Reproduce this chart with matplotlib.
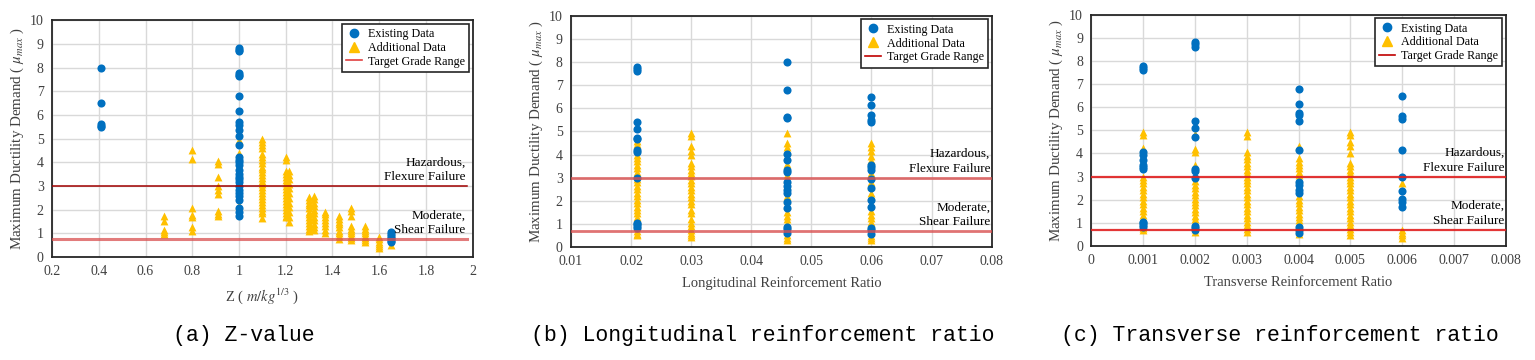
import matplotlib
matplotlib.use("Agg")
import matplotlib.pyplot as plt
from matplotlib.lines import Line2D
from matplotlib.ticker import FuncFormatter

plt.rcParams["font.family"] = ["Liberation Serif", "DejaVu Serif"]
plt.rcParams["mathtext.fontset"] = "stix"

BLUE = "#0070C0"
YELLOW = "#FFC000"
GRID = "#D9D9D9"
TXT = "#404040"

# ── (a) Z-value ──────────────────────────────────────────────────────
a_ex_cols = [0.41, 1.0, 1.65]
a_ex_vals = [
    [8.0, 6.5, 5.62, 5.55, 5.48],
    [8.82, 8.75, 8.68, 7.78, 7.7, 7.63, 6.8, 6.15, 5.72, 5.58, 5.38, 5.12, 4.72,
     4.22, 4.1, 4.0, 3.88, 3.68, 3.52, 3.38, 3.28, 3.18, 2.98, 2.85, 2.7, 2.58,
     2.42, 2.05, 1.92, 1.72],
    [1.05, 0.98, 0.9, 0.82, 0.75, 0.68, 0.62],
]
a_ad_cols = [0.68, 0.8, 0.91, 1.0, 1.1, 1.2, 1.215, 1.3, 1.32, 1.37, 1.43, 1.48, 1.54, 1.6, 1.65]
a_ad_vals = [
    [1.75, 1.52, 1.15, 1.05, 0.98],
    [4.52, 4.12, 2.08, 1.78, 1.68, 1.25, 1.12],
    [4.05, 3.92, 3.38, 2.98, 2.85, 2.68, 1.95, 1.82, 1.75],
    [4.92, 4.4, 2.2],
    [4.98, 4.85, 4.72, 4.6, 4.35, 4.22, 4.1, 3.95, 3.82, 3.7, 3.58, 3.45, 3.32,
     3.2, 3.08, 2.95, 2.82, 2.7, 2.58, 2.45, 2.32, 2.2, 2.08, 1.95, 1.85, 1.65],
    [4.22, 4.08, 3.62, 3.5, 3.38, 3.25, 3.12, 3.0, 2.88, 2.75, 2.62, 2.5, 2.38,
     2.25, 2.12, 2.0, 1.88, 1.75, 1.68],
    [3.65, 3.48, 3.3, 3.1, 2.9, 2.7, 2.5, 2.3, 2.1, 1.9, 1.7, 1.5],
    [2.55, 2.42, 2.3, 2.18, 2.05, 1.92, 1.8, 1.68, 1.55, 1.42, 1.3, 1.18, 1.08],
    [2.58, 2.45, 2.3, 2.15, 2.0, 1.85, 1.7, 1.55, 1.4, 1.25, 1.15],
    [1.92, 1.8, 1.68, 1.55, 1.42, 1.3, 1.15, 1.02],
    [1.75, 1.62, 1.5, 1.38, 1.25, 1.12, 1.0, 0.88, 0.78],
    [2.08, 1.95, 1.75, 1.3, 1.2, 1.1, 1.0, 0.9, 0.8, 0.72],
    [1.3, 1.2, 1.1, 1.0, 0.9, 0.8, 0.7, 0.62],
    [0.85, 0.75, 0.65, 0.55, 0.45, 0.38],
    [0.5],
]
a_lines = [3.0, 0.75]

# ── (b) Longitudinal reinforcement ratio ─────────────────────────────
b_ex_cols = [0.021, 0.046, 0.06]
b_ex_vals = [
    [7.78, 7.7, 7.62, 5.4, 5.1, 4.72, 4.68, 4.18, 4.12, 3.0, 1.05, 0.98, 0.9, 0.82],
    [8.0, 6.8, 5.62, 5.58, 4.02, 3.75, 3.32, 3.25, 2.8, 2.62, 2.45, 2.32, 1.95,
     1.68, 0.88, 0.78, 0.6],
    [6.5, 6.15, 5.72, 5.5, 5.4, 3.55, 3.45, 3.35, 2.95, 2.55, 2.05, 1.72, 0.82,
     0.72, 0.58],
]
b_ad_cols = [0.021, 0.03, 0.046, 0.06]
b_ad_vals = [
    [4.6, 4.45, 4.3, 4.0, 3.85, 3.7, 3.55, 3.4, 3.25, 3.1, 2.95, 2.8, 2.65, 2.5,
     2.35, 2.2, 2.05, 1.9, 1.75, 1.6, 1.45, 1.3, 1.15, 1.0, 0.85, 0.7, 0.58, 0.5],
    [4.95, 4.8, 4.35, 4.15, 4.0, 3.65, 3.5, 3.35, 3.2, 3.05, 2.9, 2.75, 2.6, 2.45,
     2.3, 2.15, 2.0, 1.85, 1.6, 1.45, 1.2, 1.05, 0.9, 0.75, 0.6, 0.5, 0.42],
    [4.92, 4.48, 4.32, 4.15, 3.95, 3.6, 3.4, 3.1, 2.95, 2.7, 2.2, 2.05, 1.8, 1.5,
     1.35, 1.2, 1.05, 0.95, 0.7, 0.5, 0.4, 0.32],
    [4.5, 4.32, 4.15, 3.95, 3.75, 3.6, 3.2, 3.05, 2.8, 2.65, 2.35, 2.2, 1.9, 1.55,
     1.4, 1.25, 1.1, 0.95, 0.65, 0.48, 0.4, 0.32],
]
b_lines = [3.0, 0.7]

# ── (c) Transverse reinforcement ratio ───────────────────────────────
c_ex_cols = [0.001, 0.002, 0.004, 0.006]
c_ex_vals = [
    [7.78, 7.7, 7.62, 4.05, 3.95, 3.72, 3.52, 3.42, 3.32, 1.05, 0.98, 0.9, 0.82],
    [8.82, 8.72, 8.62, 5.4, 5.1, 4.72, 3.32, 3.22, 2.95, 0.88, 0.78, 0.7],
    [6.8, 6.15, 5.75, 5.65, 5.4, 4.15, 2.78, 2.62, 2.42, 2.3, 0.8, 0.7, 0.55],
    [6.5, 5.62, 5.5, 4.15, 3.0, 2.38, 2.05, 1.92, 1.7],
]
c_ad_cols = [0.001, 0.002, 0.003, 0.004, 0.005, 0.006]
c_ad_vals = [
    [4.92, 4.78, 4.25, 4.12, 3.0, 2.85, 2.7, 2.55, 2.4, 2.25, 2.1, 1.95, 1.8, 1.65,
     1.5, 1.35, 1.2, 1.05, 0.9, 0.78, 0.7],
    [4.82, 4.2, 4.05, 3.5, 3.35, 2.8, 2.65, 2.5, 2.35, 2.2, 2.05, 1.9, 1.75, 1.6,
     1.45, 1.3, 1.15, 1.0, 0.85, 0.72, 0.62],
    [4.92, 4.75, 4.05, 3.9, 3.75, 3.6, 3.45, 3.3, 3.15, 3.0, 2.85, 2.7, 2.55, 2.4,
     2.25, 2.1, 1.95, 1.8, 1.65, 1.5, 1.35, 1.2, 1.05, 0.9, 0.75, 0.62],
    [4.3, 3.82, 3.65, 3.5, 3.35, 3.2, 3.05, 2.9, 2.15, 2.0, 1.85, 1.7, 1.55, 1.4,
     1.25, 1.1, 0.95, 0.8, 0.65, 0.52],
    [4.92, 4.78, 4.48, 4.32, 4.02, 3.6, 3.45, 3.3, 3.15, 3.0, 2.85, 2.7, 2.55, 2.4,
     2.25, 2.1, 1.95, 1.8, 1.65, 1.5, 1.35, 1.2, 1.05, 0.9, 0.75, 0.6, 0.48],
    [2.7, 0.68, 0.55, 0.45, 0.35],
]
c_lines = [3.0, 0.7]


def flatten(cols, vals):
    xs, ys = [], []
    for c, v in zip(cols, vals):
        xs += [c] * len(v)
        ys += v
    return xs, ys


def panel(ax, ex_cols, ex_vals, ad_cols, ad_vals, lines, xlim, xstep, xlabel,
          line_x1, line_styles, legend_line_color, caption):
    ax.set_xlim(*xlim)
    ax.set_ylim(0, 10)
    n = int(round((xlim[1] - xlim[0]) / xstep))
    ax.set_xticks([xlim[0] + i * xstep for i in range(n + 1)])
    ax.set_yticks(range(0, 11))
    ax.xaxis.set_major_formatter(FuncFormatter(lambda v, p: f"{round(v, 6):g}"))
    ax.grid(True, color=GRID, lw=1.0, zorder=0)
    ax.set_axisbelow(True)
    ax.tick_params(length=0, labelsize=10, labelcolor=TXT, pad=6)
    for s in ax.spines.values():
        s.set_color("#262626")
        s.set_linewidth(1.3)

    x, y = flatten(ad_cols, ad_vals)
    ax.scatter(x, y, marker="^", s=32, color=YELLOW, lw=0, zorder=3)
    x, y = flatten(ex_cols, ex_vals)
    ax.scatter(x, y, marker="o", s=34, color=BLUE, lw=0, zorder=4)

    for yv, (col, lw, a) in zip(lines, line_styles):
        ax.plot([xlim[0], line_x1], [yv, yv], color=col, lw=lw, alpha=a, zorder=5)

    xr = line_x1 - (xlim[1] - xlim[0]) * 0.003
    ax.text(xr, lines[0] + 0.12, "Hazardous,\nFlexure Failure", ha="right",
            va="bottom", fontsize=9.5, color="black", linespacing=1.3, zorder=6)
    ax.text(xr, lines[1] + 0.12, "Moderate,\nShear Failure", ha="right",
            va="bottom", fontsize=9.5, color="black", linespacing=1.3, zorder=6)

    ax.set_ylabel(r"Maximum Ductility Demand ( $\mu_{max}$ )", fontsize=10.8,
                  color=TXT, labelpad=3)
    ax.set_xlabel(xlabel, fontsize=10.5, color=TXT, labelpad=6)

    handles = [
        Line2D([], [], marker="o", ls="none", color=BLUE, markersize=6),
        Line2D([], [], marker="^", ls="none", color=YELLOW, markersize=6.5),
        Line2D([], [], color=legend_line_color, lw=1.2),
    ]
    leg = ax.legend(handles, ["Existing Data", "Additional Data", "Target Grade Range"],
                    loc="upper right", fontsize=8.7, frameon=True, fancybox=False,
                    edgecolor="#262626", framealpha=1, borderpad=0.35,
                    handlelength=1.3, handletextpad=0.5, labelspacing=0.15,
                    borderaxespad=0.3)
    leg.get_frame().set_linewidth(1.2)
    leg.set_zorder(10)

    pos = ax.get_position()
    fig.text(pos.x0 + pos.width / 2 - 0.012, 0.069, caption, ha="center", va="center",
             fontsize=15.5, family=["Liberation Mono", "DejaVu Sans Mono"])


fig = plt.figure(figsize=(15.35, 3.6), dpi=100)
fig.patch.set_facecolor("white")

ax_a = fig.add_axes([0.0339, 0.286, 0.274, 0.658])
ax_b = fig.add_axes([0.372, 0.314, 0.274, 0.642])
ax_c = fig.add_axes([0.711, 0.317, 0.270, 0.642])

panel(ax_a, a_ex_cols, a_ex_vals, a_ad_cols, a_ad_vals, a_lines, (0.2, 2.0), 0.2,
      r"Z ( $m/kg^{1/3}$ )", 1.975,
      [("#A00000", 1.1, 1.0), ("#D95050", 2.2, 0.75)], "#E04040", "(a) Z-value")
panel(ax_b, b_ex_cols, b_ex_vals, b_ad_cols, b_ad_vals, b_lines, (0.01, 0.08), 0.01,
      "Longitudinal Reinforcement Ratio", 0.08,
      [("#D95050", 2.0, 0.8), ("#D95050", 2.0, 0.8)], "#C00000",
      "(b) Longitudinal reinforcement ratio")
panel(ax_c, c_ex_cols, c_ex_vals, c_ad_cols, c_ad_vals, c_lines, (0.0, 0.008), 0.001,
      "Transverse Reinforcement Ratio", 0.008,
      [("#E02020", 1.6, 0.9), ("#E02020", 1.6, 0.9)], "#C00000",
      "(c) Transverse reinforcement ratio")

fig.savefig("out.png", dpi=100)
